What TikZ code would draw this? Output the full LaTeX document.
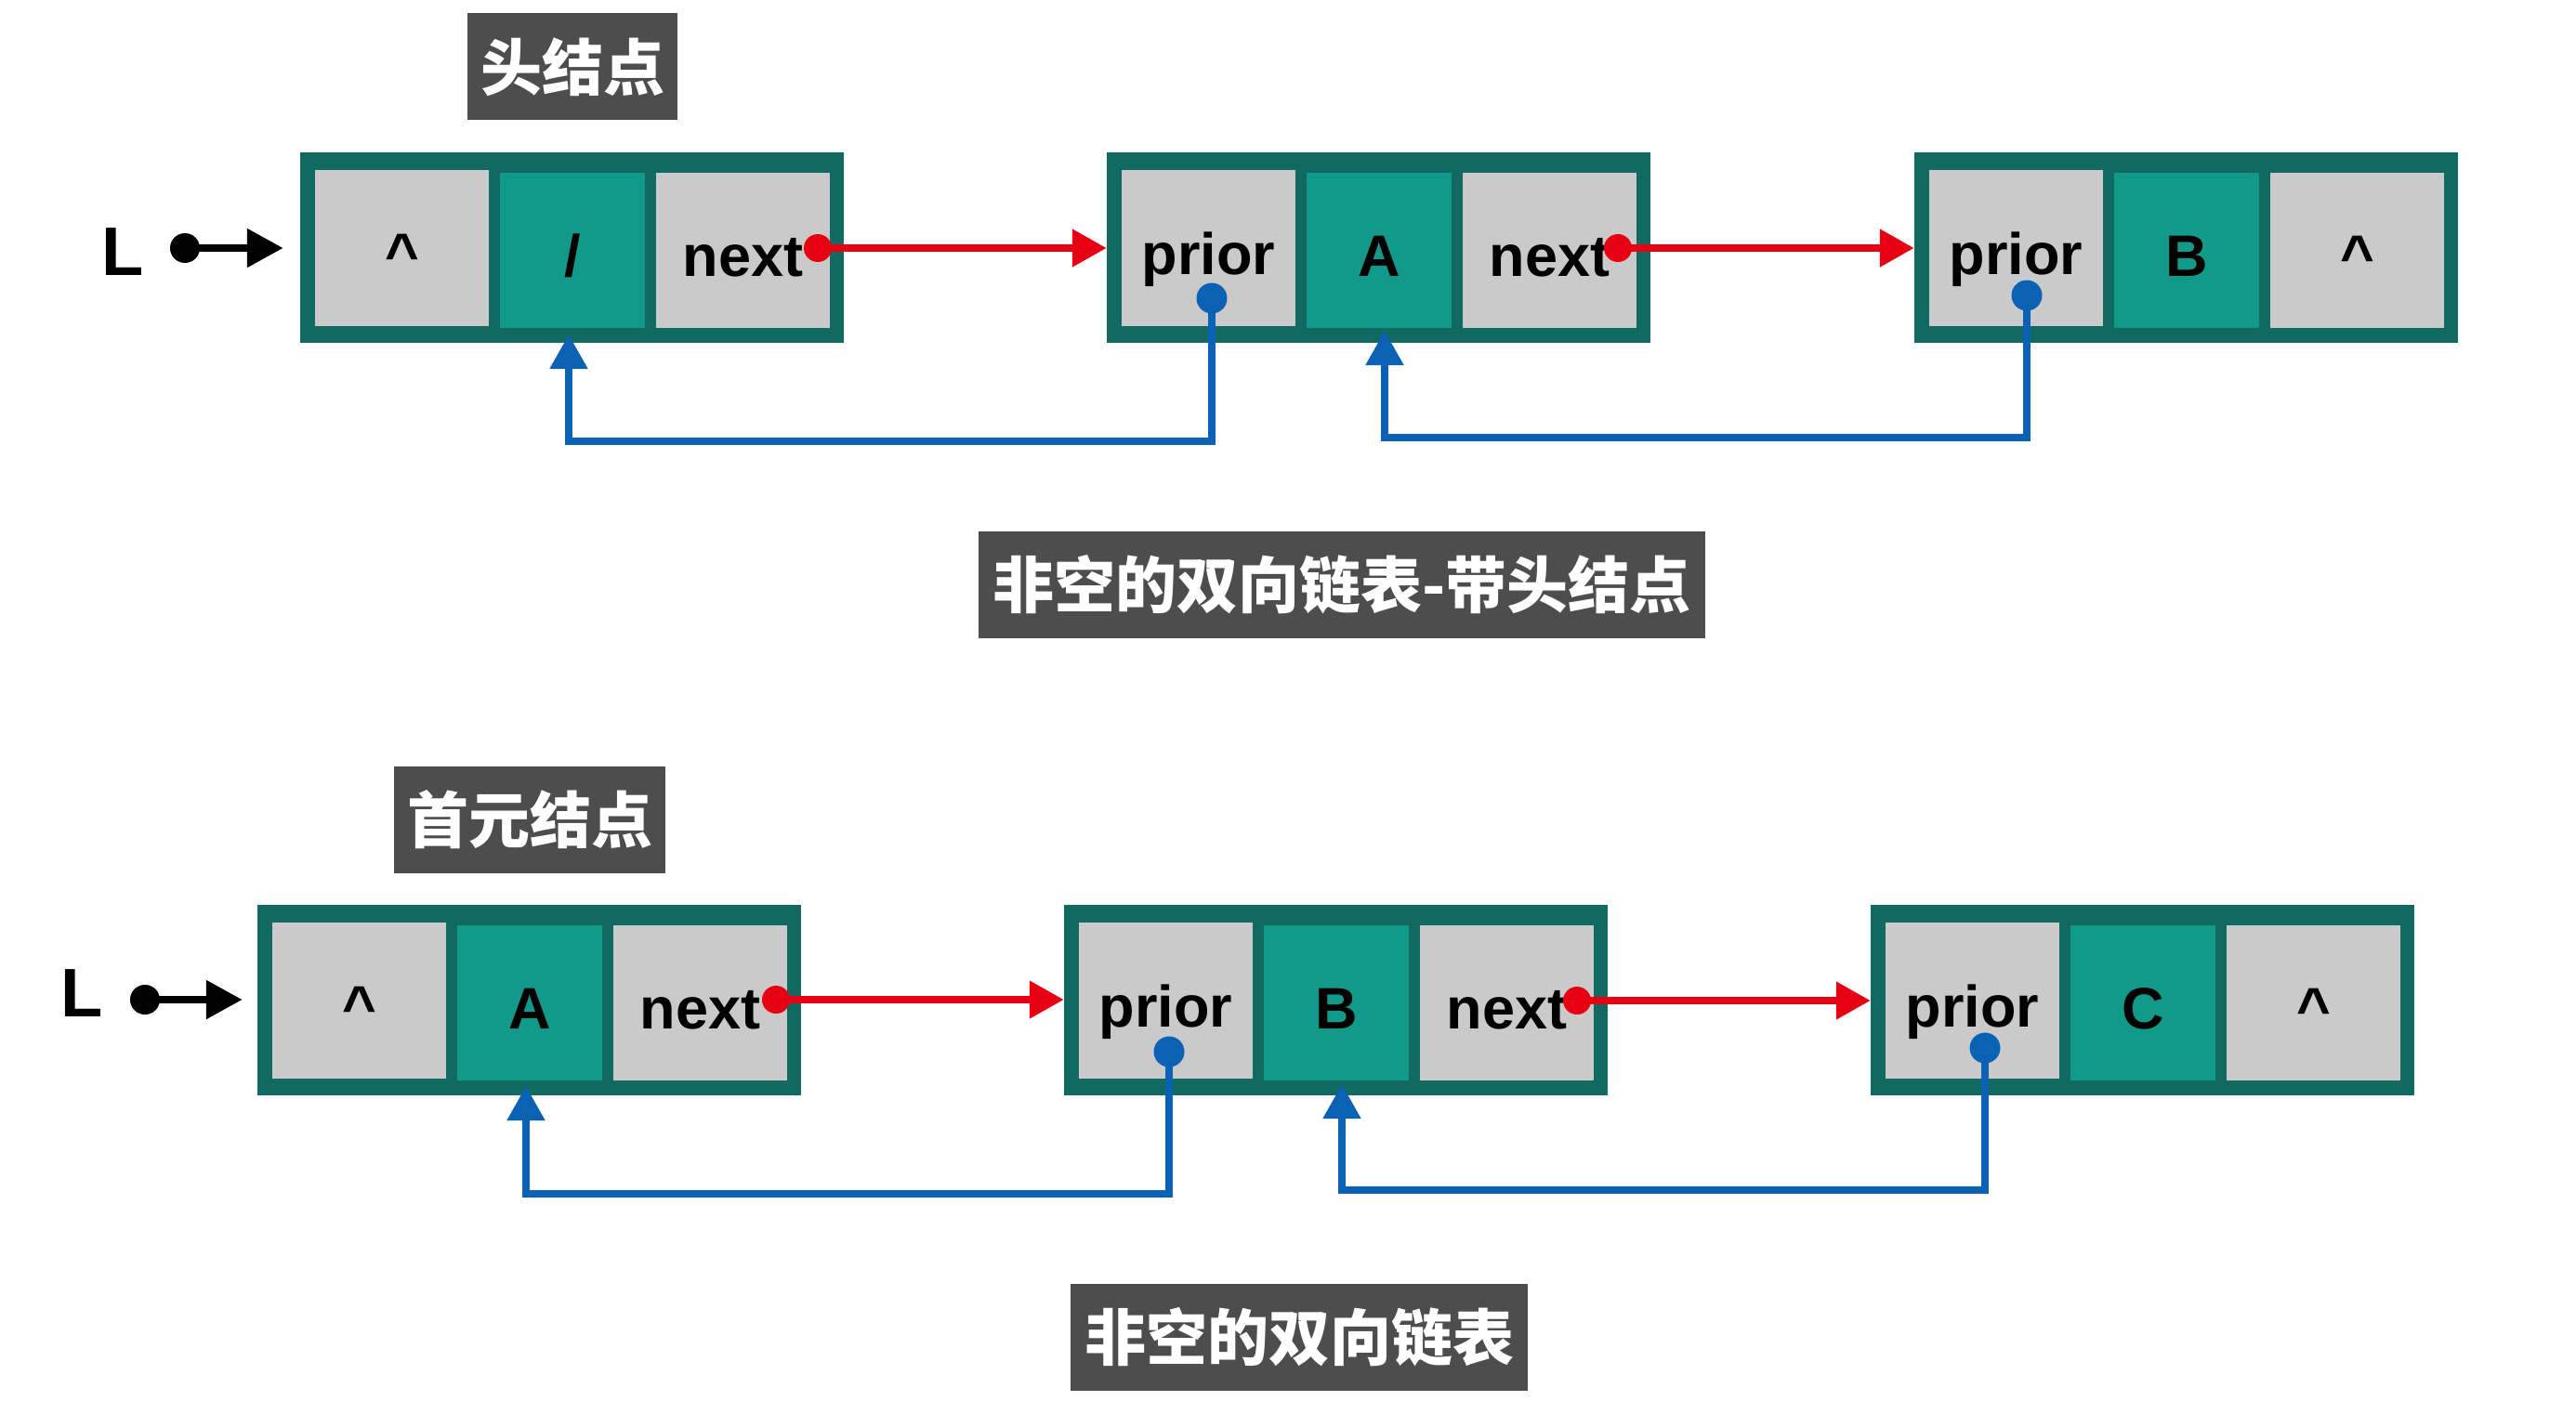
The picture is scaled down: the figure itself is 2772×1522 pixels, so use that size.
\documentclass[tikz,border=0pt]{standalone}
\usepackage{fontspec}
\setmainfont{Liberation Sans}
\newfontfamily\cjk{Noto Sans CJK SC}
\usetikzlibrary{arrows.meta}
\definecolor{framec}{RGB}{16,106,98}
\definecolor{tealc}{RGB}{19,153,138}
\definecolor{grayc}{RGB}{202,202,202}
\definecolor{labelc}{RGB}{77,77,77}
\definecolor{redc}{RGB}{230,0,18}
\definecolor{bluec}{RGB}{11,98,180}
\newcommand\bigtxt{\bfseries\fontsize{63}{63}\selectfont}
\newcommand\smtxt{\bfseries\fontsize{63}{63}\selectfont}
\tikzset{
  frame/.style={fill=framec, draw=none, minimum width=585pt, minimum height=205pt, inner sep=0pt},
  cellbase/.style={draw=none, inner sep=0pt, text height=56pt, text depth=0pt},
  graycell/.style={cellbase, fill=grayc, minimum width=187pt, minimum height=167pt},
  tealcell/.style={cellbase, fill=tealc, minimum width=156pt, minimum height=167pt},
  lbl/.style={fill=labelc, text=white, font=\cjk\bfseries\fontsize{66}{66}\selectfont, inner sep=0pt, minimum height=115pt},
  Ltxt/.style={font=\bfseries\fontsize{74}{74}\selectfont, inner sep=0pt},
  dotc/.style={circle, inner sep=0pt, draw=none},
  blackdot/.style={dotc, fill=black, minimum size=32pt},
  reddot/.style={dotc, fill=redc, minimum size=30pt},
  bluedot/.style={dotc, fill=bluec, minimum size=33pt},
  blackarrow/.style={draw=black, line width=8.5pt, -{Triangle[length=39pt,width=40pt]}},
  redarrow/.style={draw=redc, line width=8pt, -{Triangle[length=37pt,width=39pt]}},
  bluearrow/.style={draw=bluec, line width=8pt, -{Triangle[length=37pt,width=39pt]}},
}
\newcommand\dlnode[6]{%
  \node[frame] (#1) at ({#2+292.5},{#3+266.5}) {};
  \node[graycell, minimum height=168pt] (#1a) at ({#2+109.5},{#3+267}) {#4};
  \node[tealcell] (#1b) at ({#2+293},{#3+269.5}) {#5};
  \node[graycell] (#1c) at ({#2+476.5},{#3+269.5}) {#6};
}
\begin{document}
\begin{tikzpicture}[x=1pt,y=-1pt]
\fill[white] (0,0) rectangle (2772,1522);
\useasboundingbox (0,0) rectangle (2772,1522);

% labels
\node[lbl, minimum width=226pt] (h1) at (616,72) {头结点};
\node[lbl, minimum width=782pt] (c1) at (1444,629.5) {非空的双向链表-带头结点};
\node[lbl, minimum width=292pt] (h2) at (570,882) {首元结点};
\node[lbl, minimum width=492pt] (c2) at (1398,1439.5) {非空的双向链表};

% top row
\dlnode{n1}{323}{0}{\smtxt\textasciicircum}{\smtxt /}{\bigtxt next}
\dlnode{n2}{1191}{0}{\bigtxt prior}{\smtxt A}{\bigtxt next}
\dlnode{n3}{2060}{0}{\bigtxt prior}{\smtxt B}{\smtxt\textasciicircum}

% bottom row
\dlnode{m1}{277}{810}{\smtxt\textasciicircum}{\smtxt A}{\bigtxt next}
\dlnode{m2}{1145}{810}{\bigtxt prior}{\smtxt B}{\bigtxt next}
\dlnode{m3}{2013}{810}{\bigtxt prior}{\smtxt C}{\smtxt\textasciicircum}

% L pointers
\node[Ltxt, anchor=base west] (L1) at (109,296) {L};
\node[Ltxt, anchor=base west] (L2) at (65,1094) {L};
\node[blackdot] (Ld1) at (199,267) {};
\node[blackdot] (Ld2) at (156,1076) {};
\draw[blackarrow] (Ld1.center) -- ([xshift=-18pt]Ld1.center -| n1.west);
\draw[blackarrow] (Ld2.center) -- ([xshift=-16pt]Ld2.center -| m1.west);

% next pointers
\node[reddot] (r1) at (880,267) {};
\node[reddot] (r2) at (1741,267) {};
\node[reddot] (r3) at (835,1076) {};
\node[reddot] (r4) at (1697,1077) {};
\draw[redarrow] (r1.center) -- (r1.center -| n2.west);
\draw[redarrow] (r2.center) -- (r2.center -| n3.west);
\draw[redarrow] (r3.center) -- (r3.center -| m2.west);
\draw[redarrow] (r4.center) -- (r4.center -| m3.west);

% prior pointers
\node[bluedot] (b2) at (1304,321) {};
\node[bluedot] (b3) at (2181,318) {};
\node[bluedot] (b5) at (1258,1132) {};
\node[bluedot] (b6) at (2136,1128) {};
\coordinate (u1) at (612,360);
\coordinate (u2) at (1490,356);
\coordinate (u4) at (566,1169);
\coordinate (u5) at (1444,1167);
\draw[bluearrow] (b2.center) -- ++(0,154) -| (u1);
\draw[bluearrow] (b3.center) -- ++(0,153) -| (u2);
\draw[bluearrow] (b5.center) -- ++(0,153) -| (u4);
\draw[bluearrow] (b6.center) -- ++(0,153) -| (u5);
\end{tikzpicture}
\end{document}
